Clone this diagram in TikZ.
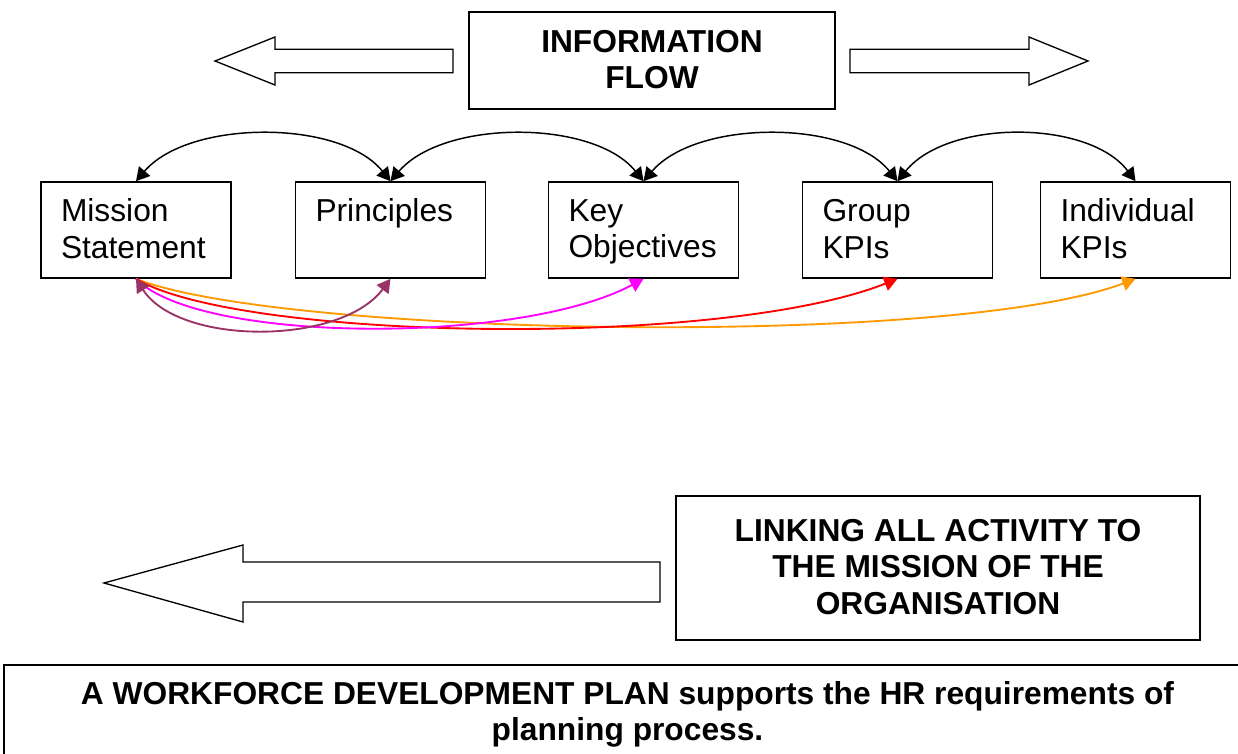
\documentclass[tikz,border=0pt]{standalone}
\usepackage{fontspec}
\setmainfont{Liberation Sans}
\usetikzlibrary{arrows.meta}
\definecolor{plum}{HTML}{993366}
\definecolor{orng}{HTML}{FF9900}
\definecolor{mgnt}{HTML}{FF00FF}
\definecolor{rd}{HTML}{FF0000}
\newcommand\lstrut{\rule[-4.2pt]{0pt}{23.2pt}}
\begin{document}
\begin{tikzpicture}[>={Triangle[length=10pt,width=11pt]},x=0.75pt,y=-0.75pt,
	box/.style={draw,line width=1.2pt,minimum width=190*0.75pt,minimum height=96*0.75pt,text width=150*0.75pt,inner xsep=20*0.75pt,align=left,font=\fontsize{23.8}{27.2}\selectfont},
	title/.style={draw,line width=1.2pt,align=center,font=\fontsize{23.8}{27.2}\selectfont\bfseries},
	hollow/.style={draw,line width=1pt,fill=white,line join=miter},
	flow/.style={line width=1.1pt},
	link/.style={line width=1.4pt}]
	\useasboundingbox (0,0) rectangle (1238,753);
	% top title and the two hollow arrows
	\node[title,minimum width=366*0.75pt,minimum height=97*0.75pt] (info) at (652,60.5) {\lstrut INFORMATION\\FLOW\lstrut};
	\draw[hollow] (453,49.3) -- (275,49.3) -- (275,37) -- (215,61) -- (275,85) -- (275,72.7) -- (453,72.7) -- cycle;
	\draw[hollow] (850,49.3) -- (1029,49.3) -- (1029,37) -- (1088,61) -- (1029,85) -- (1029,72.7) -- (850,72.7) -- cycle;
	% the five boxes
	\node[box] (mission) at (136,230) {\lstrut Mission\\Statement\lstrut};
	\node[box] (princ) at (390.5,230) {\lstrut Principles\\\lstrut};
	\node[box] (keyobj) at (643.5,230) {\lstrut Key\\Objectives\lstrut};
	\node[box] (group) at (897.5,230) {\lstrut Group\\KPIs\lstrut};
	\node[box] (indiv) at (1135.5,230) {\lstrut Individual\\KPIs\lstrut};
	% black arcs on top
	\draw[flow,<->] (mission.north) .. controls +(53,-62) and +(-50,-62) .. (princ.north);
	\draw[flow,<->] (princ.north) .. controls +(53,-62) and +(-50,-62) .. (keyobj.north);
	\draw[flow,<->] (keyobj.north) .. controls +(53,-62) and +(-50,-62) .. (group.north);
	\draw[flow,<->] (group.north) .. controls +(50,-62) and +(-47,-62) .. (indiv.north);
	% coloured links underneath
	\draw[link,orng,->] (mission.south) .. controls +(143,57) and +(-185,70) .. (indiv.south);
	\draw[link,rd,->] (mission.south) .. controls +(103,62) and +(-177,70) .. (group.south);
	\draw[link,mgnt,->] (mission.south) .. controls +(63,65) and +(-123,66) .. (keyobj.south);
	\draw[link,plum,<->] (mission.south) .. controls +(43,67) and +(-50,67) .. (princ.south);
	% lower part
	\node[title,minimum width=524*0.75pt,minimum height=144*0.75pt] (linking) at (938,568) {\lstrut LINKING ALL ACTIVITY TO\\THE MISSION OF THE\\ORGANISATION\lstrut};
	\draw[hollow] (660,562) -- (243,562) -- (243,545) -- (104,583) -- (243,622) -- (243,602) -- (660,602) -- cycle;
	\node[title,minimum width=1247*0.75pt,minimum height=97*0.75pt] (plan) at (627.5,713.5) {\lstrut A WORKFORCE DEVELOPMENT PLAN supports the HR requirements of\\planning process.\lstrut};
\end{tikzpicture}
\end{document}
